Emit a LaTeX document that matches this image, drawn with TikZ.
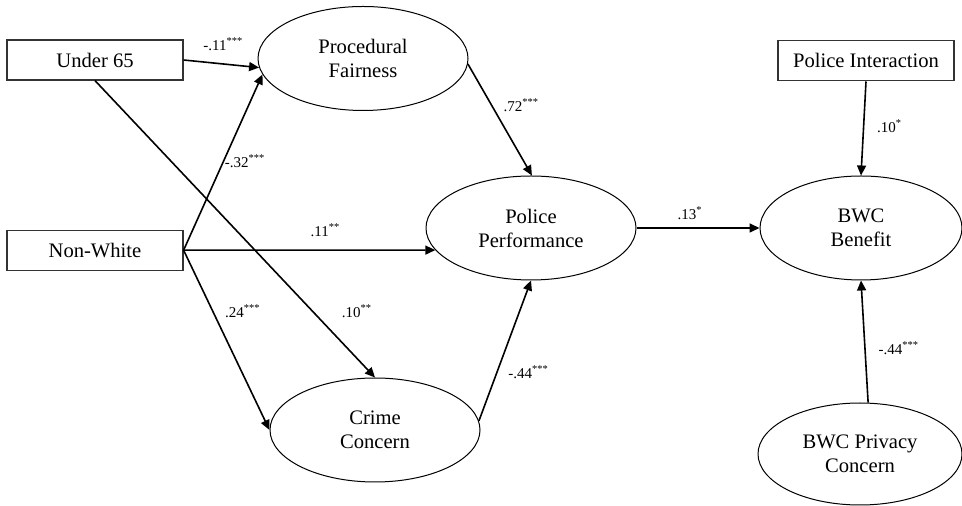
\documentclass[tikz,border=0pt]{standalone}
\usepackage{fontspec}
\setmainfont{Liberation Serif}
\usetikzlibrary{arrows.meta,positioning}
\usetikzlibrary{shapes.geometric}
\tikzset{
	%Define standard arrow tip
	>={Triangle[length=5pt,width=4.5pt]},
	%Define style for latent variables
	faktor/.style={
		ellipse,
		draw=black, line width=0.5pt,
		minimum width=105pt,
		minimum height=52pt,
		inner sep=0pt,
		align=center,
		font=\fontsize{10.3}{12}\selectfont},
	%Define style for observed variables
	maalt/.style={
		rectangle,
		draw=black!80, line width=0.6pt,
		minimum width=88pt,
		minimum height=20pt,
		inner sep=0pt,
		font=\fontsize{10.3}{12}\selectfont},
	% Define arrow style
	sti/.style={
		->,
		line width=0.8pt},
	% Define coefficient style
	koef/.style={
		inner sep=0pt,
		font=\fontsize{7.5}{9}\selectfont}
}

\begin{document}
\begin{tikzpicture}[x=0.5pt, y=-0.5pt]
	\useasboundingbox (0,0) rectangle (962,506);
	
	\node[maalt] (under65) at (95,60) {Under 65};
	\node[maalt, below = 74.5pt of under65] (nonwhite) {Non-White};
	
	\node[faktor] (pf) at (363,58.5) {Procedural\\Fairness};
	\node[faktor] (pp) at (531,228) {Police\\Performance};
	\node[faktor] (cc) at (375,430) {Crime\\Concern};
	
	\node[faktor, minimum width=101pt] (bwc) at (861,228) {BWC\\Benefit};
	\node[maalt, above = 47pt of bwc, xshift=2.5pt] (pi) {Police Interaction};
	\node[faktor, minimum width=102pt, minimum height=51pt] (privacy) at (860,454) {BWC Privacy\\Concern};
	
	\path
	(under65.east) edge [sti] node[koef, xshift=1pt, yshift=10pt] {-.11\textsuperscript{***}} (pf.185)
	
	(nonwhite.east) edge [sti] node[koef, xshift=11pt, yshift=0.5pt] {-.32\textsuperscript{***}} (pf.189)
	
	(nonwhite.east) edge [sti] node[koef, xshift=8pt, yshift=9.75pt] {.11\textsuperscript{**}} (pp.193)
	
	(nonwhite.east) edge [sti] node[koef, pos=0.34, xshift=15pt] {.24\textsuperscript{***}} (cc.west)
	
	(under65.south) edge [sti] node[koef, pos=0.775, xshift=22.5pt] {.10\textsuperscript{**}} (cc.north)
	
	(pf.-3) edge [sti] node[koef, xshift=10.75pt, yshift=7.5pt] {.72\textsuperscript{***}} (pp.89)
	
	(cc.5) edge [sti] node[koef, pos=0.35, xshift=15.75pt] {-.44\textsuperscript{***}} (pp.south)
	
	(pp.east) edge [sti] node[koef, xshift=-4pt, yshift=7.5pt] {.13\textsuperscript{*}} (bwc.west)
	
	(pi.south) edge [sti] node[koef, xshift=13pt, yshift=1pt] {.10\textsuperscript{*}} (bwc.north)
	
	(privacy.81) edge [sti] node[koef, pos=0.45, xshift=17pt] {-.44\textsuperscript{***}} (bwc.south);
	
\end{tikzpicture}
\end{document}
